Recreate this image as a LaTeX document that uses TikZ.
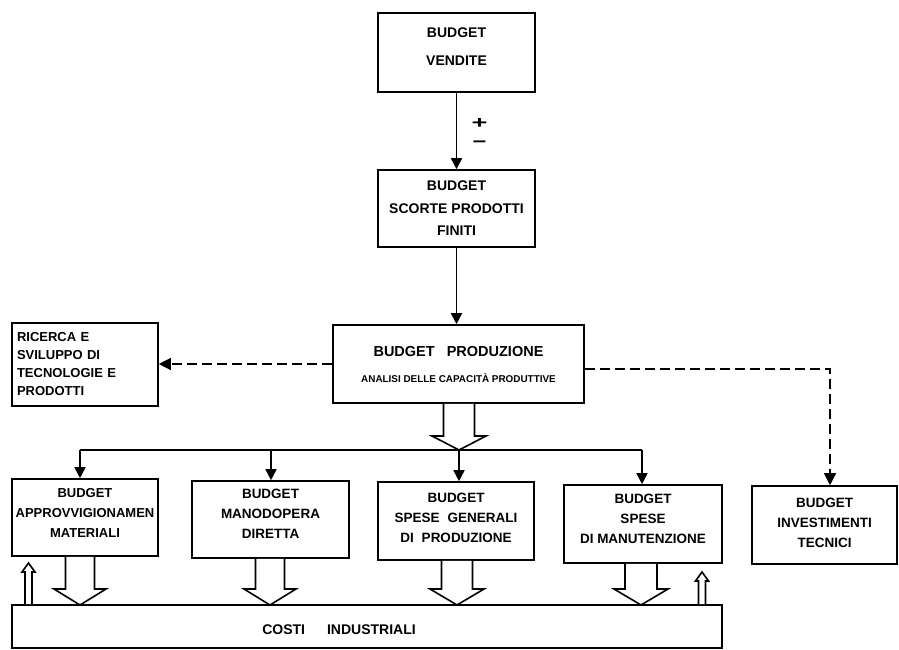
\documentclass[tikz,border=0pt]{standalone}
\usepackage{fontspec}
\setmainfont{Liberation Sans}
\usetikzlibrary{arrows.meta,calc}

% hollow block arrow from #1 down (or up) to the tip #2
% #3 shaft half width, #4 head half width, #5 head length (signed)
\newcommand\blockarrow[5]{%
  \draw[blockline] let \p1=(#1), \p2=(#2) in
    (\x1-#3,\y1) -- (\x1-#3,\y2+#5) -- (\x1-#4,\y2+#5) -- (\x2,\y2)
    -- (\x1+#4,\y2+#5) -- (\x1+#3,\y2+#5) -- (\x1+#3,\y1);}

% centred lines of text, drawn #1 higher than the box centre
\newcommand\liftlines[2]{\raisebox{#1}[\height][\depth]{\begin{tabular}{@{}c@{}}#2\end{tabular}}}

\begin{document}
\begin{tikzpicture}[x=1pt,y=-1pt,
  line width=1.6pt,
  box/.style={draw, rectangle, inner sep=2pt, align=center,
    font=\fontsize{13.5}{20}\selectfont\bfseries},
  lbl/.style={inner sep=0pt, align=center,
    font=\fontsize{14}{20}\selectfont\bfseries},
  sign/.style={inner sep=0pt, font=\fontsize{17}{17}\selectfont\bfseries},
  arr/.style={-{Triangle[length=11pt,width=11pt]}},
  dasharr/.style={line width=1.3pt, dash pattern=on 10pt off 5pt,
    -{Triangle[length=12pt,width=12pt]}},
  blockline/.style={line width=1.6pt, fill=white, line join=miter},
]
\useasboundingbox (0,0) rectangle (899,650);

% ---- upper chain
\node[box, minimum width=157pt, minimum height=79pt,
  font=\fontsize{14}{28}\selectfont\bfseries] (vend) at (456.5,52.5)
  {\liftlines{6.5pt}{BUDGET\\VENDITE}};
\node[box, minimum width=157pt, minimum height=77pt,
  font=\fontsize{14}{22.5}\selectfont\bfseries] (scorte) at (456.5,208.5)
  {BUDGET\\SCORTE PRODOTTI\\FINITI};
\node[box, minimum width=251pt, minimum height=78pt,
  font=\fontsize{14.5}{26}\selectfont\bfseries] (prod) at (458.5,364)
  {BUDGET\hspace{12pt}PRODUZIONE\\
   {\fontsize{9.9}{10}\selectfont ANALISI DELLE CAPACITÀ PRODUTTIVE}};

\node[box, minimum width=146pt, minimum height=83pt, text width=136pt,
  inner xsep=5pt, align=left,
  font=\fontsize{13}{18}\selectfont\bfseries] (ric) at (85,364.5)
  {RICERCA E\\SVILUPPO DI\\TECNOLOGIE E\\PRODOTTI};

% ---- second row
\node[box, minimum width=146pt, minimum height=77pt, inner xsep=1pt,
  font=\fontsize{13}{20}\selectfont\bfseries] (appr) at (85,517.5)
  {\liftlines{4.5pt}{BUDGET\\APPROVVIGIONAMEN\\MATERIALI}};
\node[box, minimum width=157pt, minimum height=77pt] (mano) at (270.5,519.5)
  {\liftlines{5.5pt}{BUDGET\\MANODOPERA\\DIRETTA}};
\node[box, minimum width=156pt, minimum height=78pt] (spese) at (456,521)
  {\liftlines{2.5pt}{BUDGET\\SPESE\hspace{8pt}GENERALI\\DI\hspace{8pt}PRODUZIONE}};
\node[box, minimum width=158pt, minimum height=78pt] (manut) at (643,524)
  {\liftlines{5pt}{BUDGET\\SPESE\\DI MANUTENZIONE}};
\node[box, minimum width=145pt, minimum height=78pt] (inv) at (824.5,525)
  {\liftlines{2pt}{BUDGET\\INVESTIMENTI\\TECNICI}};

% ---- total costs
\node[draw, rectangle, minimum width=710pt, minimum height=43pt] (costi)
  at (367,626.5) {};
\node[lbl] (costilbl) at (339,630) {COSTI\hspace{22pt}INDUSTRIALI};

% ---- sign labels on the first link
\node[sign] (plus) at (479.5,124) {\scalebox{1.6}[1]{+}};
\node[sign] (minus) at (479.5,144) {\scalebox{1.4}[1]{−}};

% ---- solid links
\draw[arr] (vend.south) -- (scorte.north);
\draw[arr] (scorte.south) -- (scorte.south |- prod.north);

% ---- dashed links
\draw[dasharr] (prod.west) -- (ric.east |- prod.west);
\draw[dasharr] ([yshift=-5pt]prod.east) -| ([xshift=5.5pt]inv.north);

% ---- distribution from production
\coordinate (hub) at (459,450);
\coordinate (d1) at (80,450);
\coordinate (d2) at (271,450);
\coordinate (d4) at (642,450);
\draw (d1) -- (d4);
\draw[arr] (d1) -- (d1 |- appr.north);
\draw[arr] (d2) -- (d2 |- mano.north);
\draw[arr] (hub) -- (hub |- spese.north);
\draw[arr] (d4) -- (d4 |- manut.north);
\blockarrow{hub |- prod.south}{hub}{15.5pt}{27pt}{14pt}

% ---- block arrows into total costs
\coordinate (t1) at (80,605);
\coordinate (t2) at (270,605);
\coordinate (t3) at (457,605);
\coordinate (t4) at (641,605);
\blockarrow{t1 |- appr.south}{t1}{14.5pt}{26pt}{16pt}
\blockarrow{t2 |- mano.south}{t2}{14.5pt}{26pt}{16pt}
\blockarrow{t3 |- spese.south}{t3}{15.5pt}{27pt}{16pt}
\blockarrow{t4 |- manut.south}{t4}{16pt}{27pt}{16pt}

% ---- small return arrows out of total costs
\coordinate (u1) at (28.5,563);
\coordinate (u2) at (702,572);
\blockarrow{u1 |- costi.north}{u1}{3.5pt}{6.5pt}{-9pt}
\blockarrow{u2 |- costi.north}{u2}{3.5pt}{6.5pt}{-9pt}
\end{tikzpicture}
\end{document}
